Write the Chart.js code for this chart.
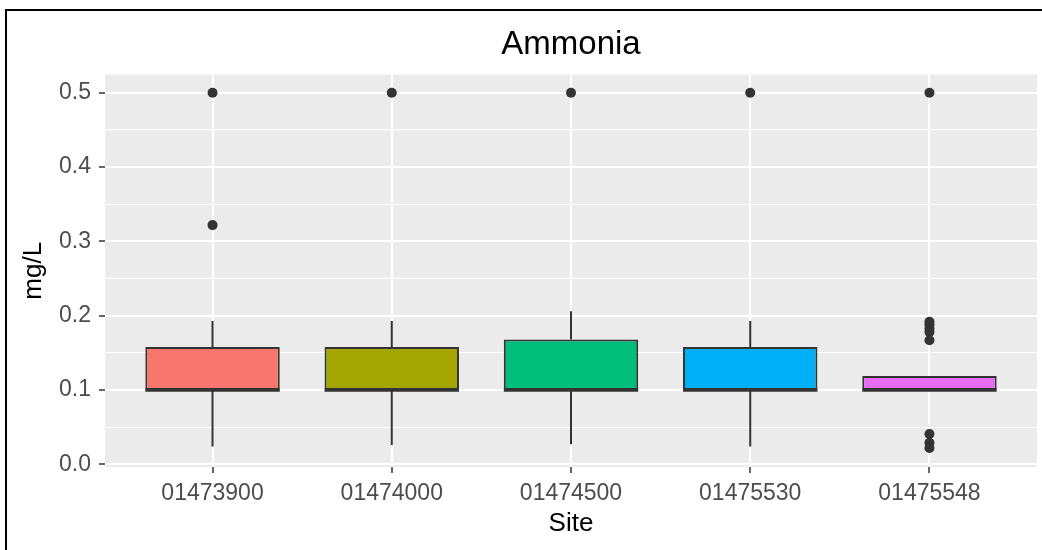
<!DOCTYPE html>
<html>
<head>
<meta charset="utf-8">
<script src="https://cdn.jsdelivr.net/npm/chart.js@4"></script>
<style>
html, body { margin: 0; padding: 0; background: #ffffff; }
canvas { display: block; }
</style>
</head>
<body>
<canvas id="c" width="1042" height="550"></canvas>
<script>
// ---- data ----
const sites = ['01473900', '01474000', '01474500', '01475530', '01475548'];
const q1 = [0.1, 0.1, 0.1, 0.1, 0.1];
const median = [0.1, 0.1, 0.1, 0.1, 0.1];
const q3 = [0.158, 0.158, 0.168, 0.158, 0.119];
const whiskerLow = [0.024, 0.026, 0.027, 0.024, 0.1];
const whiskerHigh = [0.193, 0.193, 0.206, 0.193, 0.119];
const outliers = [
  [0.5, 0.322],
  [0.5],
  [0.5],
  [0.5],
  [0.5, 0.192, 0.188, 0.183, 0.178, 0.167, 0.041, 0.029, 0.022]
];
const boxColors = ['#F8766D', '#A3A500', '#00BF7D', '#00B0F6', '#E76BF3'];
const yMajorTicks = [0, 0.1, 0.2, 0.3, 0.4, 0.5];
const yTickLabels = ['0.0', '0.1', '0.2', '0.3', '0.4', '0.5'];
const yMinorTicks = [0.05, 0.15, 0.25, 0.35, 0.45];

const FONT = "'Liberation Sans', Arial, sans-serif";

function majorIndex(v) {
  for (let k = 0; k < yMajorTicks.length; k++) {
    if (Math.abs(yMajorTicks[k] - v) < 1e-9) return k;
  }
  return -1;
}

const boxPlugin = {
  id: 'boxplotParts',
  beforeDraw(chart) {
    const { ctx, chartArea: a } = chart;
    ctx.save();
    ctx.fillStyle = '#ffffff';
    ctx.fillRect(0, 0, chart.width, chart.height);
    ctx.fillStyle = '#EBEBEB';
    ctx.fillRect(a.left, a.top, a.right - a.left, a.bottom - a.top);
    ctx.fillStyle = '#000000';
    ctx.fillRect(5, 9, 2, chart.height - 9);
    ctx.fillRect(5, 9, chart.width - 5, 2);
    ctx.restore();
  },
  beforeDatasetsDraw(chart) {
    const { ctx } = chart;
    const xs = chart.scales.x, ys = chart.scales.y;
    ctx.save();
    ctx.strokeStyle = '#333333';
    ctx.lineWidth = 2;
    sites.forEach((s, i) => {
      const x = xs.getPixelForValue(i + 1);
      ctx.beginPath();
      ctx.moveTo(x, ys.getPixelForValue(q3[i]));
      ctx.lineTo(x, ys.getPixelForValue(whiskerHigh[i]));
      ctx.moveTo(x, ys.getPixelForValue(q1[i]));
      ctx.lineTo(x, ys.getPixelForValue(whiskerLow[i]));
      ctx.stroke();
    });
    ctx.restore();
  },
  afterDatasetsDraw(chart) {
    const { ctx } = chart;
    const ys = chart.scales.y;
    const meta = chart.getDatasetMeta(0);
    ctx.save();
    ctx.strokeStyle = '#333333';
    ctx.lineWidth = 3.4;
    meta.data.forEach((bar, i) => {
      const y = ys.getPixelForValue(median[i]);
      ctx.beginPath();
      ctx.moveTo(bar.x - bar.width / 2, y);
      ctx.lineTo(bar.x + bar.width / 2, y);
      ctx.stroke();
    });
    ctx.restore();
  }
};

const outlierPoints = [];
outliers.forEach((arr, i) => arr.forEach(v => outlierPoints.push({ x: i + 1, y: v })));

new Chart(document.getElementById('c'), {
  type: 'bar',
  data: {
    datasets: [
      {
        data: sites.map((s, i) => ({ x: i + 1, y: [q1[i], q3[i]] })),
        backgroundColor: boxColors,
        borderColor: '#333333',
        borderWidth: 2,
        borderSkipped: false,
        barPercentage: 0.75,
        categoryPercentage: 1.0
      },
      {
        type: 'scatter',
        data: outlierPoints,
        pointRadius: 5,
        pointHoverRadius: 5,
        backgroundColor: '#333333',
        borderColor: '#333333',
        borderWidth: 0
      }
    ]
  },
  options: {
    responsive: false,
    animation: false,
    devicePixelRatio: 1,
    events: [],
    layout: { padding: { left: 0, right: 5, top: 0, bottom: 0 } },
    plugins: {
      legend: { display: false },
      tooltip: { enabled: false },
      title: {
        display: true,
        text: 'Ammonia',
        color: '#000000',
        fullSize: false,
        font: { family: FONT, size: 33, weight: 'normal' },
        padding: { top: 25, bottom: 10 }
      }
    },
    scales: {
      x: {
        type: 'linear',
        min: 0.4,
        max: 5.6,
        offset: false,
        grid: { offset: false, color: '#ffffff', lineWidth: 2, tickColor: '#333333', tickLength: 6, tickWidth: 1.5 },
        border: { display: false },
        afterBuildTicks: s => { s.ticks = sites.map((n, i) => ({ value: i + 1 })); },
        ticks: {
          autoSkip: false,
          maxRotation: 0,
          padding: 7,
          color: '#4D4D4D',
          font: { family: FONT, size: 23 },
          callback: v => sites[Math.round(v) - 1] ?? ''
        },
        title: {
          display: true,
          text: 'Site',
          color: '#000000',
          font: { family: FONT, size: 26 },
          padding: { top: 0, bottom: 11 }
        },
        afterFit: s => { s.height = 83; }
      },
      y: {
        min: -0.0035,
        max: 0.5245,
        grid: {
          color: '#ffffff',
          lineWidth: c => (majorIndex(c.tick.value) >= 0 ? 2 : 1),
          tickColor: c => (majorIndex(c.tick.value) >= 0 ? '#333333' : 'rgba(0,0,0,0)'),
          tickLength: 6,
          tickWidth: 1.5
        },
        border: { display: false },
        afterBuildTicks: s => {
          s.ticks = yMajorTicks.concat(yMinorTicks).sort((a, b) => a - b).map(v => ({ value: v }));
        },
        ticks: {
          autoSkip: false,
          padding: 8,
          color: '#4D4D4D',
          font: { family: FONT, size: 23 },
          callback: v => { const k = majorIndex(v); return k >= 0 ? yTickLabels[k] : ''; }
        },
        title: {
          display: true,
          text: 'mg/L',
          color: '#000000',
          font: { family: FONT, size: 26 },
          padding: { top: 18, bottom: 0 }
        },
        afterFit: s => { s.width = 105; }
      }
    }
  },
  plugins: [boxPlugin]
});
</script>
</body>
</html>
